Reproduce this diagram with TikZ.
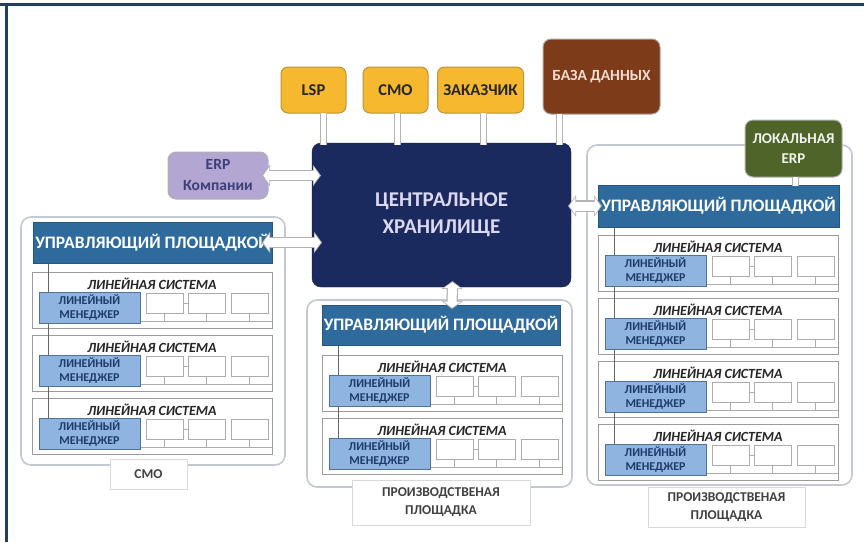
\documentclass[tikz,border=0pt]{standalone}
\usepackage{fontspec}
\setmainfont{Carlito}
\usetikzlibrary{arrows.meta,calc}

\definecolor{framec}{HTML}{1F3F66}
\definecolor{hubc}{HTML}{1B2A5E}
\definecolor{hubt}{HTML}{DCD8F2}
\definecolor{hdrc}{HTML}{2E6B9C}
\definecolor{mgrc}{HTML}{8EB4DF}
\definecolor{mgrb}{HTML}{4F7298}
\definecolor{mgrt}{HTML}{1F3A6B}
\definecolor{yelc}{HTML}{F5B82E}
\definecolor{yelb}{HTML}{B8963E}
\definecolor{dbc}{HTML}{7E3B19}
\definecolor{dbt}{HTML}{F2DDD0}
\definecolor{erpc}{HTML}{B4A6D3}
\definecolor{erpt}{HTML}{3C3F78}
\definecolor{locc}{HTML}{4F6428}
\definecolor{panelb}{HTML}{C3C9D2}
\definecolor{rowb}{HTML}{9B9B9B}

% one "linear system" row: #1 name, #2 left x, #3 top y
\newcommand\lsrow[3]{%
  \node[rowbox,anchor=north west] (#1) at (#2,#3) {};
  \draw[spine] (#2+16,#3-12) -- (#2+16,#3+20);
  \node[rowtitle] (#1-t) at (#2+120,#3+11.5) {ЛИНЕЙНАЯ СИСТЕМА};
  \coordinate (#1-b) at (0,#3+49);
  \draw[bus] (#2+100,#3+49) -- (#1.east |- #1-b);
  \foreach \k/\dx in {1/114,2/156,3/199}{
    \node[cellbox,anchor=north west] (#1-c\k) at (#2+\dx,#3+21) {};
    \draw[bus] (#1-c\k.south) -- (#1-c\k.south |- #1-b);
  }
  \draw[bus] (#1-c1.east) -- (#1-c2.west);
  \node[mgrbox,anchor=north west] (#1-m) at (#2+7,#3+20) {ЛИНЕЙНЫЙ\\МЕНЕДЖЕР};
}

\begin{document}
\begin{tikzpicture}[x=1pt,y=-1pt,
  every node/.style={inner sep=0pt,outer sep=0pt},
  panel/.style={draw=panelb,line width=1.6pt,rounded corners=10pt,fill=white},
  rowbox/.style={draw=rowb,line width=0.9pt,fill=white,minimum width=240pt,minimum height=56pt},
  rowtitle/.style={font=\fontsize{14}{16}\selectfont\bfseries\itshape,text=black!85},
  mgrbox/.style={draw=mgrb,line width=0.8pt,fill=mgrc,minimum width=101pt,minimum height=31pt,
    align=center,text=mgrt,font=\fontsize{12}{13.5}\selectfont\bfseries},
  cellbox/.style={draw=gray!65,line width=0.9pt,fill=white,minimum width=37pt,minimum height=20pt},
  bus/.style={draw=gray!65,line width=0.8pt},
  spine/.style={draw=black!60,line width=0.9pt},
  header/.style={fill=hdrc,draw=hdrc!80!black,line width=0.6pt,text=white,
    font=\fontsize{17.5}{19}\selectfont\bfseries},
  tag/.style={draw=black!15,line width=0.8pt,fill=white,align=center,text=black!75,
    font=\fontsize{13.5}{18}\selectfont\bfseries},
  hub/.style={fill=hubc,draw=hubc!70!black,rounded corners=9pt,minimum width=259pt,
    minimum height=144pt,align=center,text=hubt,font=\fontsize{21}{27}\selectfont\bfseries},
  client/.style={fill=yelc,draw=yelb,line width=1pt,rounded corners=7pt,minimum height=46pt,
    text=black!85,font=\fontsize{16.5}{18}\selectfont\bfseries},
  dbbox/.style={fill=dbc,draw=gray!70,line width=1pt,rounded corners=8pt,minimum width=117pt,
    minimum height=75pt,text=dbt,font=\fontsize{15.5}{17}\selectfont\bfseries},
  erpbox/.style={fill=erpc,draw=gray!60,line width=1pt,rounded corners=8pt,minimum width=100pt,
    minimum height=47pt,align=center,text=erpt,font=\fontsize{15.5}{21}\selectfont\bfseries},
  locbox/.style={fill=locc,draw=gray!60,line width=1pt,rounded corners=8pt,minimum width=97pt,
    minimum height=57pt,align=center,text=white!92!locc,font=\fontsize{15}{20}\selectfont\bfseries},
  stem/.style={draw=white,line width=5pt,preaction={draw=gray!60,line width=7pt}},
  barrow/.style={draw=white,line width=9pt,
    {Triangle[length=6pt,width=17pt]}-{Triangle[length=6pt,width=17pt]},
    shorten <=1.3pt,shorten >=1.3pt,
    preaction={draw=gray!60,line width=11.5pt,
      {Triangle[length=8pt,width=21pt]}-{Triangle[length=8pt,width=21pt]},
      shorten <=0pt,shorten >=0pt}}
]
\useasboundingbox (0,0) rectangle (864,542);
\fill[white] (0,0) rectangle (864,542);

% page frame
\draw[framec,line width=3pt] (0,4.5) -- (864,4.5);
\draw[framec,line width=3pt] (6,3) -- (6,542);

% site panels
\node[panel,minimum width=264pt,minimum height=248pt] (panL) at (153,341) {};
\node[panel,minimum width=265pt,minimum height=187pt] (panM) at (439.5,393.5) {};
\node[panel,minimum width=265pt,minimum height=340pt] (panR) at (719.5,315) {};

% linear systems
\lsrow{L1}{32}{272}
\lsrow{L2}{32}{335}
\lsrow{L3}{32}{398}
\lsrow{M1}{322}{355}
\lsrow{M2}{322}{418}
\lsrow{R1}{598}{235}
\lsrow{R2}{598}{298}
\lsrow{R3}{598}{361}
\lsrow{R4}{598}{424}

% site managers
\node[header,minimum width=239pt,minimum height=41pt] (hdrL) at (152.5,242.5) {УПРАВЛЯЮЩИЙ ПЛОЩАДКОЙ};
\node[header,minimum width=238pt,minimum height=40pt] (hdrM) at (441,325) {УПРАВЛЯЮЩИЙ ПЛОЩАДКОЙ};
\node[header,minimum width=241pt,minimum height=42pt] (hdrR) at (718.5,206) {УПРАВЛЯЮЩИЙ ПЛОЩАДКОЙ};

% panel captions
\node[tag,minimum width=77pt,minimum height=30pt] (tagL) at (148.5,474) {СМО};
\node[tag,minimum width=178pt,minimum height=45pt] (tagM) at (441,502.5) {ПРОИЗВОДСТВЕНАЯ\\ПЛОЩАДКА};
\node[tag,minimum width=157pt,minimum height=40pt] (tagR) at (726.5,507) {ПРОИЗВОДСТВЕНАЯ\\ПЛОЩАДКА};

% central storage and its clients
\node[hub] (hub) at (441.5,215) {ЦЕНТРАЛЬНОЕ\\ХРАНИЛИЩЕ};
\node[client,minimum width=65pt] (lsp) at (313.5,90) {LSP};
\node[client,minimum width=65pt] (cmo) at (395.5,90) {СМО};
\node[client,minimum width=86pt] (cust) at (480.5,90) {ЗАКАЗЧИК};
\node[dbbox] (db) at (601.5,76.5) {БАЗА ДАННЫХ};
\node[erpbox] (erp) at (218,175.5) {ERP\\Компании};
\node[locbox] (loc) at (793.5,148.5) {ЛОКАЛЬНАЯ\\ERP};

\draw[stem] ([xshift=10pt]lsp.south) -- ([xshift=10pt,yshift=-2pt]lsp.south |- hub.north);
\draw[stem] ([xshift=1.5pt]cmo.south) -- ([xshift=1.5pt,yshift=-2pt]cmo.south |- hub.north);
\draw[stem] ([xshift=2.5pt]cust.south) -- ([xshift=2.5pt,yshift=-2pt]cust.south |- hub.north);
\draw[stem] ([xshift=-42pt]db.south) -- ([xshift=-42pt,yshift=-2pt]db.south |- hub.north);
\draw[stem] ([xshift=1.5pt]loc.south) -- ([xshift=1.5pt,yshift=-1pt]loc.south |- hdrR.north);

% exchange arrows
\draw[barrow] ([xshift=-6pt]erp.east) -- ([xshift=9pt]hub.west |- erp.east);
\draw[barrow] ([xshift=-10pt]hdrL.east) -- ([xshift=10pt]hub.west |- hdrL.east);
\draw[barrow] ([xshift=-3pt]hub.east |- hdrR.west) -- ([xshift=4pt]hdrR.west);
\draw[barrow] ([xshift=11pt,yshift=6pt]hub.south) -- ([xshift=11pt,yshift=-4pt]hdrM.north);
\end{tikzpicture}
\end{document}
